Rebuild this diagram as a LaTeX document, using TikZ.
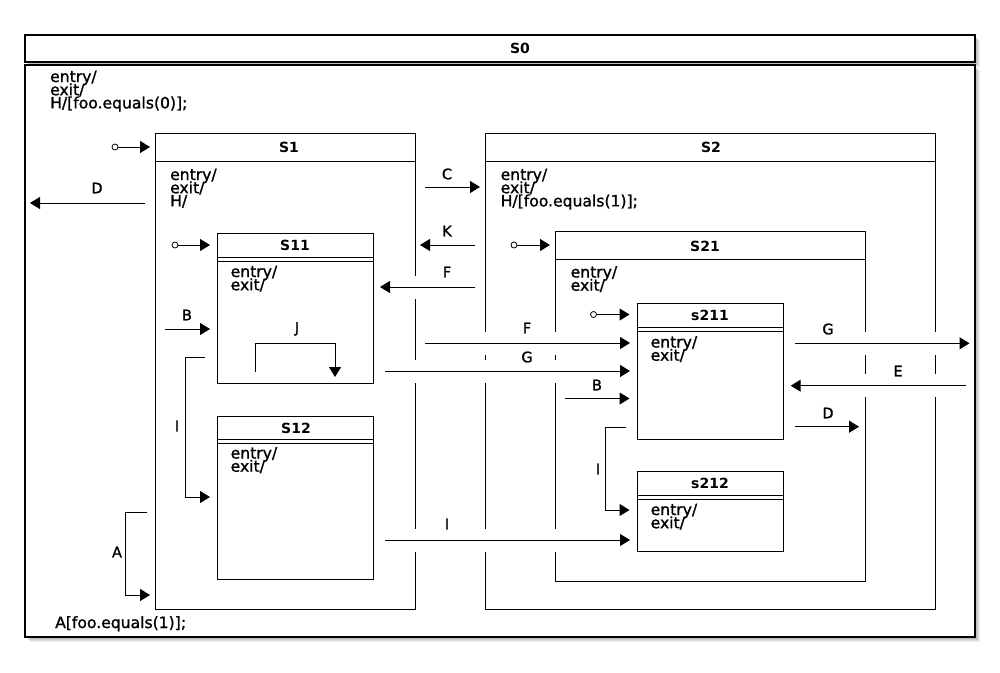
\documentclass[tikz,border=0pt]{standalone}
\usepackage{fontspec}
\setmainfont{DejaVu Sans}
\newfontfamily\bodyfont[FakeBold=1.2]{DejaVu Sans}
\usetikzlibrary{arrows.meta}
\newcommand\stbox[6][box]{\node[#1, minimum width={#5-#3}, minimum height={#6-#4}] (#2) at ({(#3+#5)/2},{(#4+#6)/2}) {};}
\newcommand\hdr[2]{\draw[bline] (#1.west |- 0,#2) -- (#1.east |- 0,#2);}
\begin{document}
\begin{tikzpicture}[x=1pt,y=-1pt,
 box/.style={draw, line width=1pt, fill=white, inner sep=0pt, outer sep=0pt},
 outerbox/.style={box, line width=1.5pt},
 bline/.style={line width=1pt},
 ttl/.style={font=\fontsize{14}{16}\selectfont\bfseries, inner sep=0pt},
 txt/.style={font={\bodyfont\fontsize{15.6}{13.2}\selectfont\lineskiplimit=-100pt}, inner sep=0pt, anchor=base west},
 lbl/.style={font=\bodyfont\fontsize{14.5}{16}\selectfont, inner sep=0pt},
 tr/.style={line width=1pt, -{Triangle[length=10pt,width=12pt]}},
 gap/.style={preaction={draw=white, line width=23pt, arrows=-}},
 ini/.style={draw, fill=white, line width=0.8pt, circle, inner sep=0pt, minimum size=6pt}
]
\useasboundingbox (0,0) rectangle (1000,672);
\fill[white] (0,0) rectangle (1000,672);
% shadows of S0
\foreach \i in {1,...,5}{
  \fill[black,opacity=0.07] ({25+\i},{35+\i}) rectangle ({975+\i},{62+\i});
  \fill[black,opacity=0.07] ({25+\i},{65+\i}) rectangle ({975+\i},{637+\i});
}
% states
\stbox[outerbox]{S0h}{25}{35}{975}{62}
\stbox[outerbox]{S0b}{25}{65}{975}{637}
\stbox{S1}{155}{133}{415}{609}
\stbox{S2}{485}{133}{935}{609}
\stbox{S11}{217}{233}{373}{383}
\stbox{S12}{217}{416}{373}{579}
\stbox{S21}{555}{231.5}{865}{581}
\stbox{s211}{637}{303}{783}{439}
\stbox{s212}{637}{471.5}{783}{551}
\hdr{S1}{161}
\hdr{S2}{161}
\hdr{S11}{257.5}\hdr{S11}{261.5}
\hdr{S12}{439}\hdr{S12}{443}
\hdr{S21}{259}
\hdr{s211}{327.3}\hdr{s211}{331.3}
\hdr{s212}{495.5}\hdr{s212}{499.5}
% initial states
\node[ini] (i1) at (115,147) {};
\node[ini] (i11) at (175,245) {};
\node[ini] (i21) at (514,245) {};
\node[ini] (i211) at (593.5,314.5) {};
\draw[tr, shorten >=5pt] (i1) -- (S1.west |- i1);
\draw[tr, shorten >=7pt] (i11) -- (S11.west |- i11);
\draw[tr, shorten >=5pt] (i21) -- (S21.west |- i21);
\draw[tr, shorten >=7.5pt] (i211) -- (s211.west |- i211);
% transitions
\draw[tr, shorten <=10pt, shorten >=5pt] (S1.west |- 0,203) -- (S0b.west |- 0,203);
\draw[tr, shorten <=10pt, shorten >=5pt] (S1.east |- 0,187) -- (S2.west |- 0,187);
\draw[tr, shorten <=10pt, shorten >=5pt] (S2.west |- 0,245) -- (S1.east |- 0,245);
\draw[tr, gap, shorten <=10pt, shorten >=7pt] (S2.west |- 0,287) -- (S11.east |- 0,287);
\draw[tr, gap, shorten <=10pt, shorten >=7pt] (S1.east |- 0,343) -- (s211.west |- 0,343);
\draw[tr, gap, shorten <=12pt, shorten >=7pt] (S11.east |- 0,371) -- (s211.west |- 0,371);
\draw[tr, gap, shorten <=12pt, shorten >=7pt] (S12.east |- 0,540) -- (s212.west |- 0,540);
\draw[tr, shorten <=10pt, shorten >=7pt] (S1.west |- 0,329) -- (S11.west |- 0,329);
\draw[tr, shorten <=10pt, shorten >=7.5pt] (S21.west |- 0,398.5) -- (s211.west |- 0,398.5);
\draw[tr, gap, shorten <=12pt, shorten >=5.5pt] (s211.east |- 0,343.3) -- (S0b.east |- 0,343.3);
\draw[tr, gap, shorten <=9pt, shorten >=7.7pt] (S0b.east |- 0,385.7) -- (s211.east |- 0,385.7);
\draw[tr, shorten <=12pt, shorten >=6pt] (s211.east |- 0,426.7) -- (S21.east |- 0,426.7);
\draw[tr, shorten <=8pt, shorten >=5pt] (S1.west |- 0,512) -- (125,512) -- (125,595) -- (S1.west |- 0,595);
\draw[tr, shorten <=12pt, shorten >=7pt] (S11.west |- 0,357) -- (185,357) -- (185,497) -- (S12.west |- 0,497);
\draw[tr, shorten <=11pt, shorten >=7.5pt] (s211.west |- 0,427) -- (605,427) -- (605,510) -- (s212.west |- 0,510);
\draw[tr, shorten <=11pt, shorten >=6pt] (S11.south -| 255,0) -- (255,343) -- (335,343) -- (S11.south -| 335,0);
% labels
\node[lbl] (lD1) at (97,188) {D};
\node[lbl] (lC) at (447,174) {C};
\node[lbl] (lK) at (447,231) {K};
\node[lbl] (lF1) at (447,272) {F};
\node[lbl] (lF2) at (527,328) {F};
\node[lbl] (lG1) at (527,357) {G};
\node[lbl] (lI2) at (447,524) {I};
\node[lbl] (lB1) at (187,315) {B};
\node[lbl] (lJ) at (297,329) {J};
\node[lbl] (lI1) at (177,426) {I};
\node[lbl] (lA) at (117,552) {A};
\node[lbl] (lB2) at (597,385) {B};
\node[lbl] (lI3) at (598,469) {I};
\node[lbl] (lG2) at (828,329) {G};
\node[lbl] (lE) at (898,371) {E};
\node[lbl] (lD2) at (828,413) {D};
% titles
\node[ttl] (tS0) at (520,48.5) {S0};
\node[ttl] (tS1) at (289,147) {S1};
\node[ttl] (tS2) at (711,147) {S2};
\node[ttl] (tS11) at (295,245) {S11};
\node[ttl] (tS12) at (296,428) {S12};
\node[ttl] (tS21) at (705,246) {S21};
\node[ttl] (ts211) at (710,315) {s211};
\node[ttl] (ts212) at (710,483) {s212};
% internal texts
\node[txt] (xS0) at (50,82) {\vtop{\hbox{entry/}\hbox{exit/}\hbox{H/[foo.equals(0)];}}};
\node[txt] (xS0b) at (55,628) {A[foo.equals(1)];};
\node[txt] (xS1) at (170,180) {\vtop{\hbox{entry/}\hbox{exit/}\hbox{H/}}};
\node[txt] (xS2) at (500.5,180) {\vtop{\hbox{entry/}\hbox{exit/}\hbox{H/[foo.equals(1)];}}};
\node[txt] (xS11) at (230.5,277) {\vtop{\hbox{entry/}\hbox{exit/}}};
\node[txt] (xS12) at (230.5,458.5) {\vtop{\hbox{entry/}\hbox{exit/}}};
\node[txt] (xS21) at (570.5,277.5) {\vtop{\hbox{entry/}\hbox{exit/}}};
\node[txt] (xs211) at (650.5,347.5) {\vtop{\hbox{entry/}\hbox{exit/}}};
\node[txt] (xs212) at (650.5,515) {\vtop{\hbox{entry/}\hbox{exit/}}};
\end{tikzpicture}
\end{document}
